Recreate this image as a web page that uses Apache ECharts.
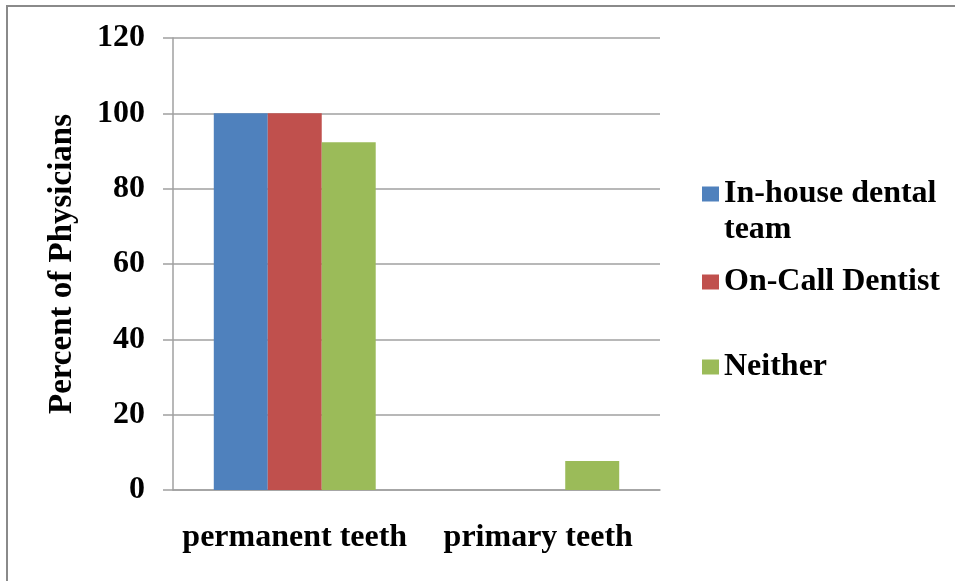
<!DOCTYPE html>
<html>
<head>
<meta charset="utf-8">
<script src="https://cdn.jsdelivr.net/npm/echarts@6/dist/echarts.min.js"></script>
<style>html,body{margin:0;padding:0;background:#fff}#c{width:955px;height:581px}</style>
</head>
<body>
<div id="c"></div>
<script>
const categories = ['permanent teeth', 'primary teeth'];
const seriesNames = ['In-house dental team', 'On-Call Dentist', 'Neither'];
const inHouse = [100, 0];
const onCall = [100, 0];
const neither = [92.3, 7.7];
const yTicks = [0, 20, 40, 60, 80, 100, 120];

const colors = ['#4F81BD', '#C0504D', '#9BBB59'];
const font = 'Liberation Serif';
const chart = echarts.init(document.getElementById('c'));
const values = [inHouse, onCall, neither];

function legendAt(name, top) {
  return {
    data: [{ name: name, icon: 'rect' }], orient: 'vertical', left: 702, top: top,
    itemWidth: 17, itemHeight: 15, itemGap: 0, padding: 0,
    selectedMode: false,
    formatter: n => n === 'In-house dental team' ? ' \nIn-house dental\nteam' : n,
    textStyle: { fontFamily: font, fontWeight: 'bold', fontSize: 32, color: '#000', lineHeight: 36 }
  };
}

chart.setOption({
  animation: false,
  backgroundColor: '#fff',
  color: colors,
  grid: { left: 173, right: 295, top: 38, bottom: 91, containLabel: false },
  graphic: [
    { type: 'line', shape: { x1: 7, y1: 6, x2: 7, y2: 581 }, style: { stroke: '#8a8a8a', lineWidth: 2 } },
    { type: 'line', shape: { x1: 6, y1: 6, x2: 955, y2: 6 }, style: { stroke: '#8a8a8a', lineWidth: 2 } }
  ],
  legend: [
    legendAt(seriesNames[0], 140),
    legendAt(seriesNames[1], 264),
    legendAt(seriesNames[2], 349)
  ],
  xAxis: {
    type: 'category', data: categories,
    axisLine: { lineStyle: { color: '#a0a0a0', width: 1.5 } },
    axisTick: { show: false },
    axisLabel: { interval: 0, fontFamily: font, fontWeight: 'bold', fontSize: 32, color: '#000', margin: 32 }
  },
  yAxis: {
    type: 'value', min: 0, max: 120, interval: 20,
    name: 'Percent of Physicians', nameLocation: 'middle', nameGap: 94, nameRotate: 90,
    nameTextStyle: { fontFamily: font, fontWeight: 'bold', fontSize: 33, color: '#000' },
    axisLine: { show: true, lineStyle: { color: '#a0a0a0', width: 1.5 } },
    axisTick: { show: true, length: 10, lineStyle: { color: '#a0a0a0', width: 1.5 } },
    splitLine: { lineStyle: { color: '#a0a0a0', width: 1.5 } },
    axisLabel: { fontFamily: font, fontWeight: 'bold', fontSize: 32, color: '#000', margin: 28,
      formatter: v => yTicks.includes(v) ? String(v) : '' }
  },
  series: seriesNames.map((n, i) => ({
    name: n, type: 'bar', data: values[i],
    barGap: '0%', barCategoryGap: '33.5%',
    itemStyle: { color: colors[i] }
  }))
});
</script>
</body>
</html>
